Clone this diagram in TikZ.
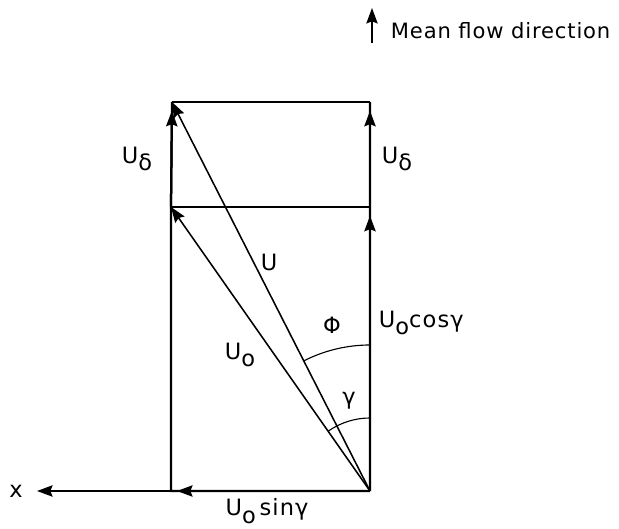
\documentclass[tikz,border=0pt]{standalone}
\usepackage{fontspec}
\setmainfont[LetterSpace=5]{DejaVu Sans}
\newfontfamily\notefont[LetterSpace=4]{DejaVu Sans}
\usetikzlibrary{arrows.meta}
\newcommand{\lsub}[1]{\raisebox{-0.6ex}{#1}}

\begin{document}
\begin{tikzpicture}[font=\fontsize{16}{18}\selectfont,
side/.style={line width=1.6pt},
vec/.style={line width=1.1pt,-{Stealth[length=11pt,width=8pt,inset=1.5pt]}},
tip/.style={-{Stealth[length=11pt,width=8pt,inset=1.5pt]}},
angarc/.style={line width=0.8pt},
early/.style={tip,shorten >=0.22cm}]
\useasboundingbox(-9.25,-0.95)rectangle(6.225,12.275);
% corners of the velocity rectangle
\coordinate(O)at(0,0);
\coordinate(L)at(-4.975,0);
\coordinate(Lm)at(-4.975,7.1);
\coordinate(Lt)at(-4.95,9.725);
\coordinate(Rm)at(0,7.1);
\coordinate(Rt)at(0,9.725);
\coordinate(X)at(-8.325,0);
\coordinate(mf0)at(0.05,11.2);
\coordinate(mf1)at(0.05,12.075);
% sides
\draw[side](O)--(L)--(Lm)--(Lt) (O)--(Rt);
\draw[side,tip,shorten >=0.15cm](O)--(L);
\draw[side,tip](L)--(X);
\draw[side,early](Lm)--(Lt);
\draw[side,early](O)--(Rm);
\draw[side,early](Rm)--(Rt);
\draw[line width=1.3pt](Lm)--(Rm) (Lt)--(Rt);
% resultant vectors
\draw[vec](O)--(Lm);
\draw[vec](O)--(Lt);
\draw[angarc]([shift={(90:3.65)}]O)arc[start angle=90,end angle=117,radius=3.65];
\draw[angarc]([shift={(90:1.825)}]O)arc[start angle=90,end angle=125,radius=1.825];
% labels
\node(udl)at(-5.825,8.3){U\lsub{δ}};
\node(udr)at(0.675,8.3){U\lsub{δ}};
\node(u)at(-2.525,5.725){U};
\node(uo)at(-3.25,3.4){U\lsub{o}};
\node(phi)at(-0.95,4.15){Φ};
\node[anchor=west](ucos)at(0.1,4.2){U\lsub{o}cosγ};
\node(gam)at(-0.525,2.25){γ};
\node(usin)at(-2.575,-0.5){U\lsub{o}\,sinγ};
\node(x)at(-8.85,0){x};
\draw[line width=1.1pt,tip](mf0)--(mf1);
\node[anchor=west,font=\fontsize{15}{17}\notefont](mf)at(0.4,11.5){Mean flow direction};
\end{tikzpicture}
\end{document}
